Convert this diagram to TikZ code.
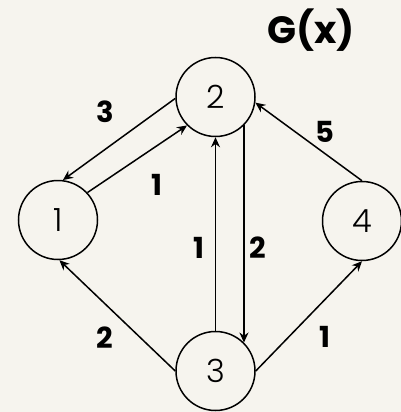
\documentclass[tikz,border=0pt]{standalone}
\usepackage{fontspec}
\setmainfont{Poppins}
\newfontfamily\lightfont{Poppins Light}
\usetikzlibrary{arrows.meta}
\definecolor{paper}{RGB}{246,244,238}
\begin{document}
\begin{tikzpicture}[x=1pt,y=-1pt,
  vertex/.style={circle,draw=black,line width=1.5pt,minimum size=79pt,inner sep=0pt,
    font=\lightfont\fontsize{32}{32}\selectfont},
  edge/.style={draw=black,line width=1.5pt,-{Stealth[length=10pt,width=9pt]}},
  weight/.style={font=\bfseries\fontsize{29}{29}\selectfont,inner sep=0pt}]
  \fill[paper] (0,0) rectangle (401,412);
  \useasboundingbox (0,0) rectangle (401,412);

  \node[font=\bfseries\fontsize{38}{38}\selectfont] (title) at (311,30) {G(x)};

  \node[vertex] (n1) at (58,220) {1};
  \node[vertex] (n2) at (215.5,97) {2};
  \node[vertex] (n3) at (215.5,371) {3};
  \node[vertex] (n4) at (362,221) {4};

  \draw[edge] (n2.182) -- (n1.83);
  \draw[edge] (n1.43) -- (n2.225);
  \draw[edge] (n3.90) -- (n2.270);
  \draw[edge] (n2.315) -- (n3.45);
  \draw[edge] (n4.90) -- (n2.352);
  \draw[edge] (n3.180) -- (n1.272);
  \draw[edge] (n3.0) -- (n4.270);

  \node[weight] (w21) at (105,112) {3};
  \node[weight] (w12) at (157,185) {1};
  \node[weight] (w32) at (199,248) {1};
  \node[weight] (w23) at (258,248) {2};
  \node[weight] (w42) at (325,132) {5};
  \node[weight] (w31) at (105,338) {2};
  \node[weight] (w34) at (325,337) {1};
\end{tikzpicture}
\end{document}
